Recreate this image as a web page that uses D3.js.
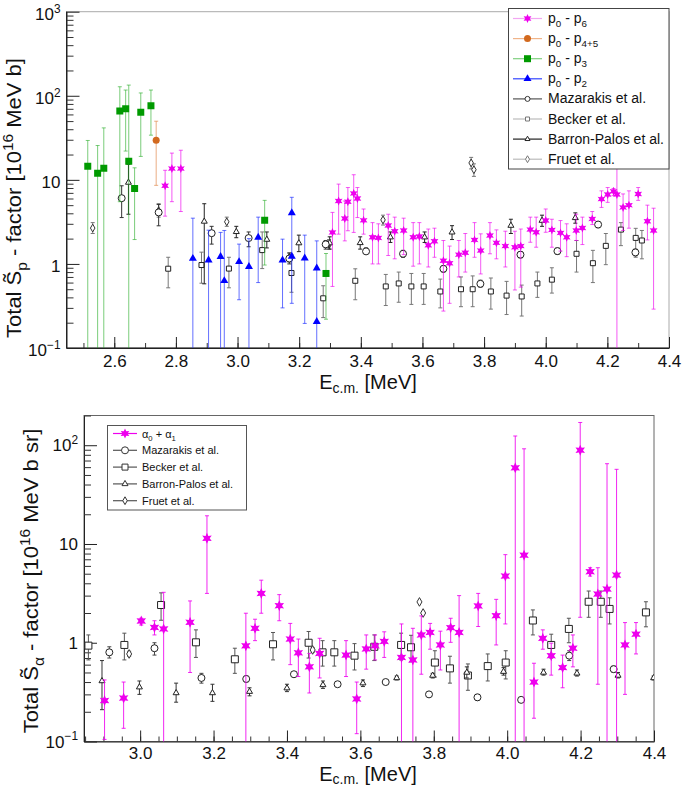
<!DOCTYPE html>
<html>
<head>
<meta charset="utf-8">
<script src="https://cdn.jsdelivr.net/npm/d3@7"></script>
<style>
  body { margin: 0; background: #fff; }
  text { font-family: "Liberation Sans", Arial, Helvetica, sans-serif; fill: #111; }
</style>
</head>
<body>
<script>
// ---------- data: [E (MeV), S, low end of error bar, high end of error bar] ----------
// upper panel (proton channels)
var p0p6 = [
  [2.765, 8.5, 3.7, 13.0], [2.787, 13.6, 5.5, 20.8], [2.816, 13.6, 4.2, 22.5],
  [3.308, 2.37, 0.54, 4.1], [3.328, 5.6, 2.26, 8.9], [3.348, 3.47, 1.88, 5.6],
  [3.358, 5.5, 2.48, 8.1], [3.377, 6.9, 2.37, 11.5], [3.389, 6.0, 3.56, 8.1],
  [3.409, 3.3, 2.26, 4.5], [3.438, 2.08, 1.0, 3.1], [3.457, 2.04, 1.0, 3.0],
  [3.489, 2.86, 1.26, 3.9], [3.510, 2.45, 1.15, 3.6], [3.539, 2.5, 1.29, 3.5],
  [3.570, 2.08, 0.94, 3.1], [3.590, 2.12, 1.0, 3.1], [3.619, 1.67, 0.92, 2.6],
  [3.639, 1.86, 1.2, 2.66], [3.668, 1.09, 0.275, 1.9], [3.688, 1.02, 0.34, 1.63],
  [3.718, 1.29, 0.70, 1.9], [3.739, 1.36, 0.80, 2.3], [3.769, 1.93, 1.2, 3.1],
  [3.789, 1.44, 0.76, 2.28], [3.819, 2.18, 1.32, 3.1], [3.840, 1.78, 1.15, 2.54],
  [3.869, 1.63, 0.92, 2.45], [3.900, 1.58, 0.49, 2.45], [3.919, 1.63, 0.53, 2.6],
  [3.950, 2.56, 1.81, 3.6], [3.969, 2.38, 1.58, 3.6], [4.000, 3.28, 2.38, 4.5],
  [4.020, 2.54, 1.58, 3.4], [4.048, 2.34, 1.42, 3.28], [4.068, 2.08, 1.22, 3.0],
  [4.099, 2.5, 1.9, 3.9], [4.119, 2.68, 1.7, 3.6], [4.151, 3.43, 2.94, 4.2],
  [4.181, 5.9, 4.7, 7.4], [4.201, 6.7, 5.4, 8.1], [4.220, 7.3, 6.5, 7.9],
  [4.231, 6.7, 0.01, 30], [4.251, 4.7, 2.5, 6.8], [4.270, 5.0, 2.66, 7.4],
  [4.300, 6.8, 5.7, 8.1], [4.330, 3.22, 1.93, 5.0], [4.350, 2.5, 0.29, 4.6]
];
var p0p45 = [[2.736, 29.6, 8.6, 49.8]];
var p0p3 = [
  [2.514, 14.5, 0.01, 29.4], [2.546, 12.0, 0.01, 25.6], [2.566, 13.7, 0.01, 41.5],
  [2.618, 66, 5.5, 128], [2.637, 70, 22, 117], [2.647, 16.7, 0.01, 134],
  [2.666, 7.9, 1.95, 13.9], [2.686, 63.7, 19, 108], [2.719, 76, 34, 117],
  [3.088, 3.3, 0.97, 5.7], [3.287, 0.77, 0.22, 1.33]
];
var p0p2 = [
  [2.855, 1.16, 0.01, 3.5], [2.906, 1.11, 0.01, 2.52], [2.945, 1.22, 0.01, 2.37],
  [2.957, 0.63, 0.01, 2.5], [3.005, 1.06, 0.375, 1.72], [3.037, 0.93, 0.01, 2.0],
  [3.067, 2.07, 0.60, 3.6], [3.146, 1.11, 0.30, 1.97], [3.176, 4.05, 0.34, 6.2],
  [3.176, 1.23, 1.23, 1.23], [3.218, 1.17, 0.196, 2.2], [3.257, 0.89, 0.01, 1.88],
  [3.257, 0.206, 0.206, 0.206]
];
var mazP = [
  [2.624, 6.05, 3.56, 8.5], [2.744, 4.1, 2.84, 5.1], [2.916, 2.32, 1.72, 2.8],
  [3.036, 2.03, 1.6, 2.4], [3.168, 1.16, 1.0, 1.35], [3.286, 1.71, 1.5, 1.9],
  [3.417, 1.41, 1.3, 1.55], [3.537, 1.32, 1.2, 1.45], [3.668, 0.875, 0.8, 0.95],
  [3.788, 0.58, 0.53, 0.64], [3.918, 1.29, 1.18, 1.4], [4.038, 1.42, 1.3, 1.55],
  [4.170, 2.94, 2.7, 3.2], [4.291, 1.37, 1.25, 1.5]
];
var beckerP = [
  [2.775, 0.877, 0.52, 1.2], [2.883, 0.97, 0.59, 1.38], [2.972, 0.88, 0.52, 1.2],
  [3.080, 1.46, 0.88, 2.4], [3.175, 0.78, 0.46, 1.3], [3.278, 0.39, 0.23, 0.55],
  [3.382, 0.63, 0.375, 0.875], [3.481, 0.54, 0.32, 0.75], [3.523, 0.586, 0.35, 0.80],
  [3.564, 0.54, 0.33, 0.77], [3.604, 0.54, 0.33, 0.77], [3.658, 0.47, 0.30, 0.66],
  [3.725, 0.50, 0.31, 0.70], [3.763, 0.50, 0.31, 0.72], [3.822, 0.47, 0.29, 0.68],
  [3.873, 0.42, 0.25, 0.62], [3.922, 0.41, 0.24, 0.56], [3.973, 0.586, 0.40, 0.80],
  [4.020, 0.65, 0.45, 0.90], [4.100, 1.32, 0.80, 1.90], [4.153, 1.02, 0.60, 1.45],
  [4.195, 1.64, 0.98, 2.30], [4.244, 2.56, 1.65, 3.10], [4.292, 2.04, 1.20, 2.65],
  [4.312, 1.9, 1.15, 2.5]
];
var barronP = [
  [2.646, 9.3, 3.9, 15.3], [2.892, 3.2, 0.58, 5.2], [2.996, 2.41, 2.05, 2.8],
  [3.095, 1.95, 1.55, 2.4], [3.199, 1.77, 1.4, 2.2], [3.299, 1.77, 1.5, 2.1],
  [3.398, 1.78, 1.5, 2.1], [3.496, 2.08, 1.8, 2.4], [3.607, 2.08, 1.8, 2.4],
  [3.696, 2.38, 1.95, 2.85], [3.887, 2.86, 2.3, 3.4], [3.988, 3.28, 2.8, 3.8],
  [4.096, 3.53, 3.05, 4.05]
];
var fruetP = [
  [2.530, 2.67, 2.3, 3.1], [2.744, 4.3, 3.6, 5.2], [2.965, 3.17, 2.8, 3.6],
  [3.168, 1.2, 1.05, 1.35], [3.297, 1.7, 1.5, 1.95], [3.472, 3.34, 2.9, 3.8],
  [3.758, 15.9, 13.5, 18.5], [3.767, 13.2, 11.0, 15.5]
];

// lower panel (alpha channels)
var a0a1 = [
  [2.903, 0.26, 0.105, 0.42], [2.955, 0.275, 0.136, 0.40], [3.003, 1.66, 1.51, 1.77],
  [3.039, 1.43, 1.2, 1.67], [3.064, 1.38, 0.01, 3.24], [3.136, 1.61, 0.50, 2.65],
  [3.182, 11.4, 3.16, 19.3], [3.288, 0.93, 0.01, 1.99], [3.313, 1.40, 1.05, 1.73],
  [3.330, 3.16, 1.99, 4.3], [3.379, 2.37, 1.67, 3.07], [3.409, 1.09, 0.60, 1.57],
  [3.431, 0.79, 0.455, 1.09], [3.461, 0.57, 0.31, 0.78], [3.489, 0.78, 0.44, 1.11],
  [3.561, 0.75, 0.455, 1.05], [3.590, 0.27, 0.12, 0.40], [3.616, 0.865, 0.54, 1.2],
  [3.640, 0.93, 0.67, 1.2], [3.665, 1.03, 0.71, 1.29], [3.712, 0.71, 0.01, 1.55],
  [3.743, 0.67, 0.01, 1.40], [3.766, 1.2, 0.48, 1.87], [3.790, 1.27, 0.86, 1.57],
  [3.818, 0.95, 0.53, 1.31], [3.846, 1.42, 1.01, 1.77], [3.869, 1.27, 0.01, 3.0],
  [3.921, 2.36, 1.46, 3.16], [3.970, 1.88, 0.95, 2.75], [3.995, 4.73, 1.55, 7.8],
  [4.022, 59, 0.01, 124], [4.046, 7.7, 0.01, 92], [4.073, 0.40, 0.172, 0.62],
  [4.097, 1.11, 0.86, 1.35], [4.120, 0.74, 0.47, 0.99], [4.151, 0.56, 0.35, 0.75],
  [4.179, 0.88, 0.57, 1.2], [4.199, 89, 1.81, 170], [4.226, 5.24, 4.73, 5.75],
  [4.247, 3.11, 0.38, 5.75], [4.272, 3.5, 0.01, 65], [4.298, 4.85, 0.01, 57],
  [4.321, 0.95, 0.30, 1.6], [4.351, 1.22, 0.77, 1.6]
];
var mazA = [
  [2.916, 0.80, 0.70, 0.91], [3.039, 0.88, 0.75, 1.0], [3.167, 0.44, 0.39, 0.49],
  [3.289, 0.43, 0.40, 0.46], [3.419, 0.48, 0.45, 0.51], [3.538, 0.38, 0.36, 0.40],
  [3.669, 0.40, 0.38, 0.42], [3.787, 0.30, 0.28, 0.32], [3.919, 0.28, 0.26, 0.30],
  [4.038, 0.264, 0.25, 0.28], [4.169, 0.74, 0.66, 0.83], [4.290, 0.54, 0.50, 0.58]
];
var beckerA = [
  [2.859, 0.935, 0.67, 1.2], [2.957, 0.95, 0.67, 1.25], [3.057, 2.41, 1.69, 3.2],
  [3.152, 1.01, 0.71, 1.35], [3.258, 0.68, 0.49, 0.88], [3.362, 0.965, 0.67, 1.27],
  [3.459, 1.0, 0.70, 1.3], [3.497, 0.80, 0.58, 1.05], [3.529, 0.80, 0.58, 1.05],
  [3.584, 0.74, 0.53, 0.98], [3.638, 0.91, 0.66, 1.2], [3.711, 0.95, 0.67, 1.25],
  [3.738, 0.90, 0.64, 1.19], [3.803, 0.63, 0.45, 0.83], [3.844, 0.55, 0.39, 0.73],
  [3.893, 0.466, 0.33, 0.61], [3.947, 0.58, 0.41, 0.77], [3.996, 0.63, 0.43, 0.83],
  [4.070, 1.68, 1.2, 2.15], [4.120, 0.95, 0.70, 1.22], [4.168, 1.38, 1.0, 1.77],
  [4.222, 2.6, 1.81, 3.34], [4.255, 2.6, 1.81, 3.34], [4.279, 2.2, 1.55, 2.85],
  [4.378, 2.03, 1.45, 2.6]
];
var barronA = [
  [2.896, 0.41, 0.21, 0.66], [2.998, 0.355, 0.30, 0.41], [3.098, 0.31, 0.25, 0.39],
  [3.197, 0.31, 0.255, 0.38], [3.298, 0.32, 0.29, 0.35], [3.400, 0.347, 0.32, 0.38],
  [3.498, 0.374, 0.345, 0.41], [3.607, 0.39, 0.36, 0.42], [3.699, 0.44, 0.42, 0.46],
  [3.797, 0.466, 0.44, 0.49], [3.890, 0.50, 0.44, 0.57], [3.990, 0.51, 0.47, 0.56],
  [4.099, 0.50, 0.47, 0.54], [4.190, 0.49, 0.46, 0.53], [4.302, 0.466, 0.44, 0.50],
  [4.399, 0.44, 0.42, 0.46]
];
var fruetA = [
  [2.970, 0.77, 0.73, 0.82], [3.470, 0.845, 0.80, 0.89],
  [3.761, 2.59, 2.59, 2.59], [3.771, 2.0, 2.0, 2.0]
];

// tick values
var topXTicks = [2.6, 2.8, 3.0, 3.2, 3.4, 3.6, 3.8, 4.0, 4.2, 4.4];
var botXTicks = [3.0, 3.2, 3.4, 3.6, 3.8, 4.0, 4.2, 4.4];
var topYTicks = [[0.1, "\u22121"], [1, null], [10, null], [100, "2"], [1000, "3"]];
var botYTicks = [[0.1, "\u22121"], [1, null], [10, null], [100, "2"]];

// ---------- drawing ----------
var svg = d3.select("body").append("svg")
  .attr("width", 685)
  .attr("height", 788);

var MAG = "#ee00ee";

function starPath(R) {
  var pts = [];
  for (var k = 0; k < 12; k++) {
    var a = -Math.PI / 2 + k * Math.PI / 6;
    var rr = (k % 2) ? R * 0.5 : R;
    pts.push([rr * Math.cos(a), rr * Math.sin(a)]);
  }
  return "M" + pts.join("L") + "Z";
}

function markerPath(type, w) {
  if (type === "star") return starPath(w / 2);
  if (type === "square") return d3.symbol().type(d3.symbolSquare).size(w * w)();
  if (type === "circle") return d3.symbol().type(d3.symbolCircle).size(Math.PI * w * w / 4)();
  if (type === "triangle") return d3.symbol().type(d3.symbolTriangle).size(0.433 * w * w)();
  if (type === "diamond") return d3.symbol().type(d3.symbolDiamond).size(0.866 * w * w)();
}

// rich text with sub/superscripts
function richText(sel, parts, fs, subShift) {
  var shift = 0;
  var sub = subShift == null ? 0.28 : subShift;
  parts.forEach(function(p) {
    var target = p[1] === "sub" ? sub * fs : (p[1] === "sup" ? -0.42 * fs : 0);
    var ts = sel.append("tspan").text(p[0]).attr("dy", target - shift);
    if (p[1]) ts.attr("font-size", 0.7 * fs);
    shift = target;
  });
}

function drawSeries(g, data, x, y, st) {
  var lo = y.domain()[0], hi = y.domain()[1];
  var bars = g.append("g").attr("stroke", st.bar).attr("stroke-width", st.barWidth || 1)
    .attr("stroke-opacity", st.barOpacity || 1);
  data.forEach(function(d) {
    if (d[2] >= d[3]) return;
    var cx = x(d[0]);
    bars.append("line").attr("x1", cx).attr("x2", cx).attr("y1", y(d[2])).attr("y2", y(d[3]));
    [d[2], d[3]].forEach(function(v) {
      if (v > lo && v < hi) {
        bars.append("line").attr("x1", cx - 2).attr("x2", cx + 2).attr("y1", y(v)).attr("y2", y(v));
      }
    });
  });
  g.append("g").selectAll("path").data(data).enter().append("path")
    .attr("d", markerPath(st.shape, st.size))
    .attr("transform", function(d) { return "translate(" + x(d[0]) + "," + y(d[1]) + ")"; })
    .attr("fill", st.fill)
    .attr("stroke", st.stroke || "none")
    .attr("stroke-width", st.strokeWidth || 1);
}

function drawFrame(g, x, y, opt) {
  var x0 = x.range()[0], x1 = x.range()[1], y0 = y.range()[0], y1 = y.range()[1];
  // outer frame
  g.append("rect").attr("x", x0).attr("y", y1).attr("width", x1 - x0).attr("height", y0 - y1)
    .attr("fill", "none").attr("stroke", opt.frame);
  // x axis
  var xMinor = d3.range(Math.ceil(x.domain()[0] / opt.xMinorStep) * opt.xMinorStep, x.domain()[1] + 1e-6, opt.xMinorStep);
  g.append("g").attr("transform", "translate(0," + y0 + ")")
    .call(d3.axisBottom(x).tickValues(xMinor).tickSize(-5).tickSizeOuter(0).tickFormat(""))
    .call(function(a) { a.select(".domain").attr("stroke", "#222"); a.selectAll("line").attr("stroke", "#333"); });
  g.append("g").attr("transform", "translate(0," + y0 + ")")
    .call(d3.axisBottom(x).tickValues(opt.xTicks).tickSize(-11).tickSizeOuter(0).tickPadding(opt.xPad)
      .tickFormat(d3.format(".1f")))
    .call(function(a) {
      a.select(".domain").remove();
      a.selectAll("line").attr("stroke", "#222");
      a.selectAll("text").attr("font-size", 17).attr("fill", "#111")
        .style("font-family", "'Liberation Sans', Arial, sans-serif");
    });
  // y axis (log)
  var yMinor = [];
  for (var e = -1; e < 3; e++) {
    for (var k = 2; k <= 9; k++) {
      var v = k * Math.pow(10, e);
      if (v < y.domain()[1] * 1.0001) yMinor.push(v);
    }
  }
  g.append("g").attr("transform", "translate(" + x0 + ",0)")
    .call(d3.axisLeft(y).tickValues(yMinor).tickSize(-7).tickSizeOuter(0).tickFormat(""))
    .call(function(a) { a.select(".domain").attr("stroke", "#222"); a.selectAll("line").attr("stroke", "#333"); });
  g.append("g").attr("transform", "translate(" + x0 + ",0)")
    .call(d3.axisLeft(y).tickValues(opt.yTicks.map(function(t) { return t[0]; })).tickSize(-13).tickSizeOuter(0).tickFormat(""))
    .call(function(a) { a.select(".domain").remove(); a.selectAll("line").attr("stroke", "#222"); });
  opt.yTicks.forEach(function(t) {
    var txt = g.append("text").attr("x", x0 - 6).attr("y", y(t[0]) + opt.yLabDy)
      .attr("text-anchor", "end").attr("font-size", 17);
    if (t[1]) richText(txt, [["10", ""], [t[1], "sup"]], 17);
    else txt.text(t[0] === 1 ? "1" : "10");
  });
}

function clipFor(id, x, y) {
  svg.append("clipPath").attr("id", id).append("rect")
    .attr("x", x.range()[0]).attr("y", y.range()[1])
    .attr("width", x.range()[1] - x.range()[0]).attr("height", y.range()[0] - y.range()[1]);
}

// ================= upper panel =================
var xT = d3.scaleLinear().domain([2.445, 4.4]).range([66.5, 669]);
var yT = d3.scaleLog().domain([0.1, 1000]).range([348, 11.7]);
var gT = svg.append("g");
drawFrame(gT, xT, yT, { frame: "#aaa", xTicks: topXTicks, xMinorStep: 0.1, xPad: 7, yTicks: topYTicks, yLabDy: 8 });
gT.append("line").attr("x1", 66.5).attr("x2", 66.5).attr("y1", 11.7).attr("y2", 348).attr("stroke", "#222");
gT.append("line").attr("x1", 66.5).attr("x2", 669).attr("y1", 348).attr("y2", 348).attr("stroke", "#222");

clipFor("clipT", xT, yT);
var dT = gT.append("g").attr("clip-path", "url(#clipT)");
drawSeries(dT, beckerP, xT, yT, { shape: "square", size: 5, fill: "#fff", stroke: "#222", bar: "#777" });
drawSeries(dT, fruetP, xT, yT, { shape: "diamond", size: 4.5, fill: "#fff", stroke: "#333", bar: "#777" });
drawSeries(dT, barronP, xT, yT, { shape: "triangle", size: 6, fill: "#fff", stroke: "#222", bar: "#222" });
drawSeries(dT, mazP, xT, yT, { shape: "circle", size: 7, fill: "#fff", stroke: "#222", bar: "#333" });
drawSeries(dT, p0p2, xT, yT, { shape: "triangle", size: 8, fill: "#0000ff", bar: "#2233ff", barOpacity: 0.7 });
drawSeries(dT, p0p3, xT, yT, { shape: "square", size: 7, fill: "#009a00", bar: "#22aa22", barOpacity: 0.6 });
drawSeries(dT, p0p45, xT, yT, { shape: "circle", size: 7, fill: "#d2691e", bar: "#e08a50", barOpacity: 0.7 });
drawSeries(dT, p0p6, xT, yT, { shape: "star", size: 9, fill: MAG, bar: MAG, barOpacity: 0.65 });

// axis titles
var ytT = gT.append("text").attr("transform", "translate(21,198) rotate(-90) scale(1.1,1)")
  .attr("text-anchor", "middle").attr("font-size", 20);
richText(ytT, [["Total S\u0303", ""], ["p", "sub"], [" - factor [10", ""], ["16", "sup"], [" MeV b]", ""]], 20);
var xtT = gT.append("text").attr("x", 368).attr("y", 389).attr("text-anchor", "middle").attr("font-size", 20);
richText(xtT, [["E", ""], ["c.m.", "sub"], [" [MeV]", ""]], 20, 0.2);

// legend (upper)
var legT = [
  { parts: [["p", ""], ["0", "sub"], [" - p", ""], ["6", "sub"]], line: "#f2a6f2", shape: "star", size: 9, fill: MAG, stroke: null },
  { parts: [["p", ""], ["0", "sub"], [" - p", ""], ["4+5", "sub"]], line: "#f0b489", shape: "circle", size: 7, fill: "#d2691e", stroke: null },
  { parts: [["p", ""], ["0", "sub"], [" - p", ""], ["3", "sub"]], line: "#7fd07f", shape: "square", size: 7, fill: "#009a00", stroke: null },
  { parts: [["p", ""], ["0", "sub"], [" - p", ""], ["2", "sub"]], line: "#3344ff", shape: "triangle", size: 8, fill: "#0000ff", stroke: null },
  { parts: [["Mazarakis et al.", ""]], line: "#555", shape: "circle", size: 5, fill: "#fff", stroke: "#333" },
  { parts: [["Becker et al.", ""]], line: "#bbb", shape: "square", size: 4, fill: "#fff", stroke: "#777" },
  { parts: [["Barron-Palos et al.", ""]], line: "#222", shape: "triangle", size: 5, fill: "#fff", stroke: "#222" },
  { parts: [["Fruet et al.", ""]], line: "#bbb", shape: "diamond", size: 4, fill: "#fff", stroke: "#777" }
];
var lgT = svg.append("g");
lgT.append("rect").attr("x", 508.5).attr("y", 8.5).attr("width", 160.5).attr("height", 160.5)
  .attr("fill", "#fff").attr("stroke", "#444");
legT.forEach(function(e, i) {
  var cy = 18.5 + i * 20.1;
  lgT.append("line").attr("x1", 513).attr("x2", 542).attr("y1", cy).attr("y2", cy).attr("stroke", e.line).attr("stroke-width", 1.2);
  lgT.append("path").attr("d", markerPath(e.shape, e.size)).attr("transform", "translate(527.5," + cy + ")")
    .attr("fill", e.fill).attr("stroke", e.stroke || "none");
  var t = lgT.append("text").attr("x", 548).attr("y", cy + 4.5).attr("font-size", 14);
  richText(t, e.parts, 14);
});

// ================= lower panel =================
var xB = d3.scaleLinear().domain([2.847, 4.4]).range([84, 654]);
var yB = d3.scaleLog().domain([0.1, 200]).range([741.5, 415.5]);
var gB = svg.append("g");
drawFrame(gB, xB, yB, { frame: "#666", xTicks: botXTicks, xMinorStep: 0.05, xPad: 5.5, yTicks: botYTicks, yLabDy: 6 });

clipFor("clipB", xB, yB);
var dB = gB.append("g").attr("clip-path", "url(#clipB)");
drawSeries(dB, beckerA, xB, yB, { shape: "square", size: 7, fill: "#fff", stroke: "#222", bar: "#555" });
drawSeries(dB, fruetA, xB, yB, { shape: "diamond", size: 5, fill: "#fff", stroke: "#333", bar: "#555" });
drawSeries(dB, barronA, xB, yB, { shape: "triangle", size: 6, fill: "#fff", stroke: "#222", bar: "#333" });
drawSeries(dB, mazA, xB, yB, { shape: "circle", size: 7, fill: "#fff", stroke: "#222", bar: "#444" });
drawSeries(dB, a0a1, xB, yB, { shape: "star", size: 11, fill: MAG, bar: MAG, barOpacity: 0.85 });

var ytB = gB.append("text").attr("transform", "translate(38,581) rotate(-90) scale(1.1,1)")
  .attr("text-anchor", "middle").attr("font-size", 20);
richText(ytB, [["Total S\u0303", ""], ["\u03b1", "sub"], [" - factor [10", ""], ["16", "sup"], [" MeV b sr]", ""]], 20);
var xtB = gB.append("text").attr("x", 368).attr("y", 781).attr("text-anchor", "middle").attr("font-size", 20);
richText(xtB, [["E", ""], ["c.m.", "sub"], [" [MeV]", ""]], 20, 0.15);

// legend (lower)
var legB = [
  { parts: [["\u03b1", ""], ["0", "sub"], [" + \u03b1", ""], ["1", "sub"]], line: MAG, shape: "star", size: 10, fill: MAG, stroke: null },
  { parts: [["Mazarakis et al.", ""]], line: "#555", shape: "circle", size: 7, fill: "#fff", stroke: "#333" },
  { parts: [["Becker et al.", ""]], line: "#555", shape: "square", size: 6, fill: "#fff", stroke: "#333" },
  { parts: [["Barron-Palos et al.", ""]], line: "#555", shape: "triangle", size: 6, fill: "#fff", stroke: "#333" },
  { parts: [["Fruet et al.", ""]], line: "#555", shape: "diamond", size: 4.5, fill: "#fff", stroke: "#333" }
];
var lgB = svg.append("g");
lgB.append("rect").attr("x", 107.5).attr("y", 425.5).attr("width", 139).attr("height", 84.5)
  .attr("fill", "#fff").attr("stroke", "#555");
legB.forEach(function(e, i) {
  var cy = 433.5 + i * 16.8;
  lgB.append("line").attr("x1", 113).attr("x2", 137).attr("y1", cy).attr("y2", cy).attr("stroke", e.line).attr("stroke-width", 1.2);
  lgB.append("path").attr("d", markerPath(e.shape, e.size)).attr("transform", "translate(125," + cy + ")")
    .attr("fill", e.fill).attr("stroke", e.stroke || "none");
  var t = lgB.append("text").attr("x", 142).attr("y", cy + 4).attr("font-size", 11);
  richText(t, e.parts, 11);
});
</script>
</body>
</html>
